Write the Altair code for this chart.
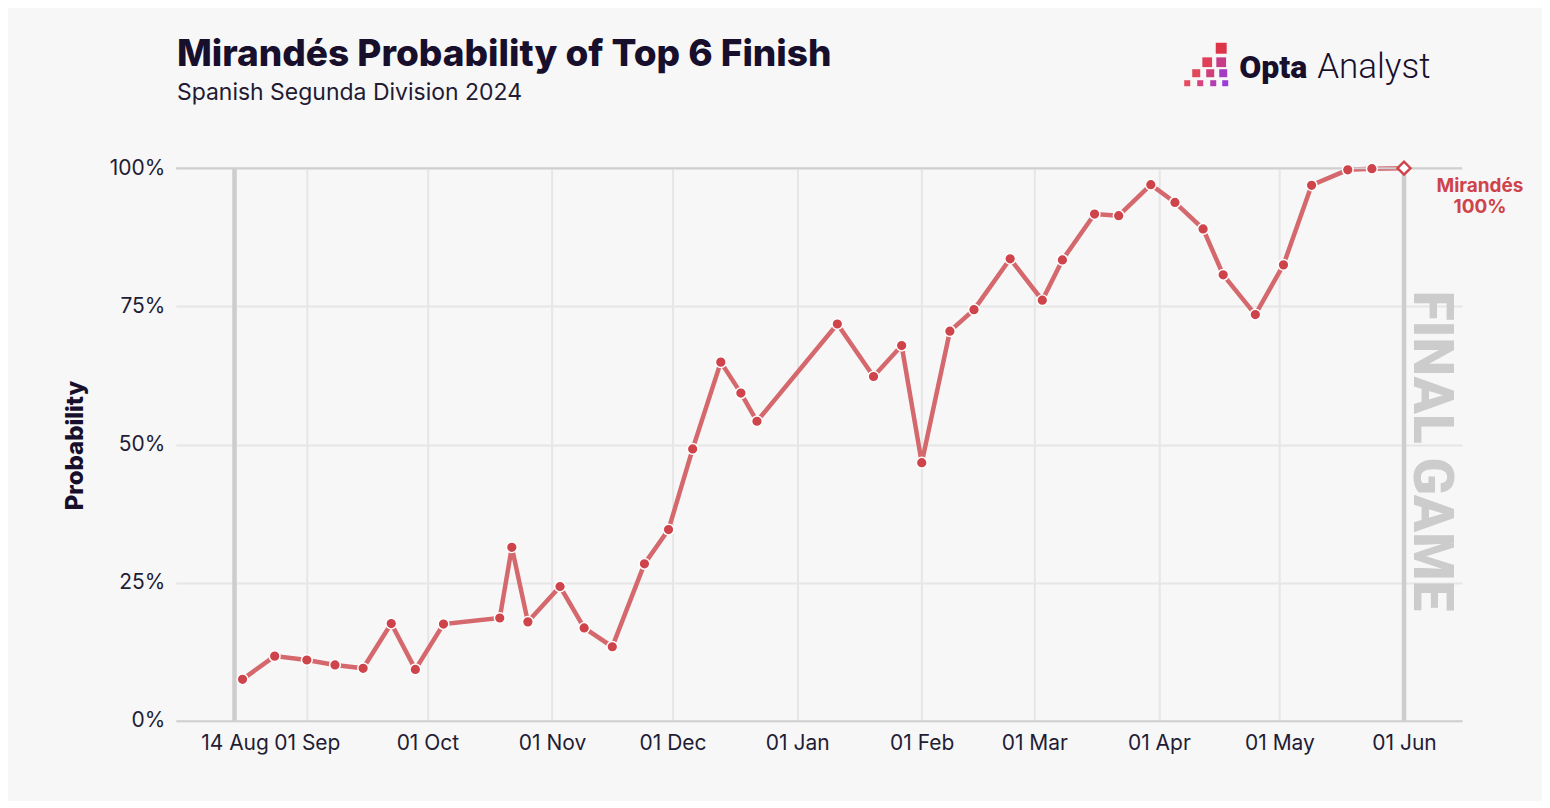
import altair as alt
import pandas as pd

team = "Mirandés"
title_text = "Mirandés Probability of Top 6 Finish"
subtitle_text = "Spanish Segunda Division 2024"

dates = ["2024-08-16", "2024-08-24", "2024-09-01", "2024-09-08", "2024-09-15",
         "2024-09-22", "2024-09-28", "2024-10-05", "2024-10-19", "2024-10-22",
         "2024-10-26", "2024-11-03", "2024-11-09", "2024-11-16", "2024-11-24",
         "2024-11-30", "2024-12-06", "2024-12-13", "2024-12-18", "2024-12-22",
         "2025-01-11", "2025-01-20", "2025-01-27", "2025-02-01", "2025-02-08",
         "2025-02-14", "2025-02-23", "2025-03-03", "2025-03-08", "2025-03-16",
         "2025-03-22", "2025-03-30", "2025-04-05", "2025-04-12", "2025-04-17",
         "2025-04-25", "2025-05-02", "2025-05-09", "2025-05-18", "2025-05-24",
         "2025-06-01"]
probs = [7.5, 11.7, 11.0, 10.1, 9.5,
         17.6, 9.3, 17.5, 18.6, 31.4,
         17.9, 24.3, 16.8, 13.4, 28.4,
         34.6, 49.2, 64.9, 59.3, 54.2,
         71.8, 62.3, 67.9, 46.7, 70.5,
         74.4, 83.6, 76.1, 83.4, 91.7,
         91.4, 97.0, 93.8, 89.0, 80.7,
         73.5, 82.5, 96.9, 99.7, 99.9,
         100.0]

tick_dates = ["2024-08-14", "2024-09-01", "2024-10-01", "2024-11-01", "2024-12-01",
              "2025-01-01", "2025-02-01", "2025-03-01", "2025-04-01", "2025-05-01",
              "2025-06-01"]
season_start = "2024-08-14"
final_game = "2025-06-01"
y_ticks = [0, 0.25, 0.5, 0.75, 1.0]


def dt(s, h=0, m=0):
    y, mo, d = (int(v) for v in s.split("-"))
    return alt.DateTime(year=y, month=mo, date=d, hours=h, minutes=m)


df = pd.DataFrame({"date": [d + "T00:00:00" for d in dates],
                   "prob": [p / 100 for p in probs]})
df_pts = df.iloc[:-1]
df_last = df.iloc[-1:].copy()
df_last["label"] = f"{team}\n{probs[-1]:.0f}%"
rules_df = pd.DataFrame({"date": [season_start + "T00:00:00", final_game + "T00:00:00"]})
final_df = pd.DataFrame({"date": [final_game + "T00:00:00"], "txt": ["FINAL GAME"]})

RED = "#cf434a"
LINE = "#d5686d"
DARK = "#170f2c"
FONT = "Inter"

xscale = alt.Scale(domain=[dt("2024-07-30", 10), dt("2025-06-15", 10, 30)])
yscale = alt.Scale(domain=[0, 1])

xaxis = alt.Axis(values=[dt(s) for s in tick_dates], format="%d %b", title=None,
                 labelFont=FONT, labelFontSize=21, labelColor="#231c35",
                 labelPadding=12, ticks=False, domainColor="#d0d0d0", domainWidth=2,
                 grid=True, gridColor="#e6e6e6", gridWidth=2, labelOverlap=False)
yaxis = alt.Axis(values=y_ticks, format=".0%", title="Probability",
                 labelFont=FONT, labelFontSize=21, labelColor="#231c35",
                 labelPadding=11, ticks=False, domain=False,
                 grid=True, gridColor="#e6e6e6", gridWidth=2,
                 titleFont=FONT, titleFontSize=24, titleFontWeight=800,
                 titleColor=DARK, titleAngle=-90, titleX=-100, titleY=277,
                 titleAlign="center", titleBaseline="middle")

X = alt.X("date:T", scale=xscale, axis=xaxis)
Y = alt.Y("prob:Q", scale=yscale, axis=yaxis)

base = alt.Chart(df).encode(x=X, y=Y)

line = base.mark_line(color=LINE, strokeWidth=4.5)
points = alt.Chart(df_pts).mark_circle(size=115, color=RED, opacity=1,
                                        stroke="white", strokeWidth=1.5).encode(
    x=alt.X("date:T", scale=xscale), y=alt.Y("prob:Q", scale=yscale))
last_pt = alt.Chart(df_last).mark_point(shape="diamond", size=170, filled=True,
                                         fill="#ffffff", stroke=RED, strokeWidth=2.4,
                                         opacity=1).encode(
    x=alt.X("date:T", scale=xscale), y=alt.Y("prob:Q", scale=yscale))
last_label = alt.Chart(df_last).mark_text(
    lineBreak="\n", align="center", baseline="middle", dx=76, dy=18,
    font=FONT, fontSize=19, fontWeight="bold", color=RED, lineHeight=21).encode(
    x=alt.X("date:T", scale=xscale), y=alt.Y("prob:Q", scale=yscale), text="label:N")

vrules = alt.Chart(rules_df).mark_rule(color="#cdcdcd", strokeWidth=4.5).encode(
    x=alt.X("date:T", scale=xscale))
top_rule = alt.Chart(pd.DataFrame({"v": [1.0]})).mark_rule(
    color="#cfcfcf", strokeWidth=2).encode(y=alt.Y("v:Q", scale=yscale))

final_txt = alt.Chart(final_df).mark_text(
    angle=90, align="center", baseline="alphabetic", dy=-10,
    font="Roboto", fontSize=55, fontWeight=900, color="#cccccc").encode(
    x=alt.X("date:T", scale=xscale), y=alt.value(283), text="txt:N")

one = pd.DataFrame({"a": [0]})

# title & subtitle (positioned relative to plot origin at 176,168)
title_mark = alt.Chart(one).mark_text(
    text=title_text, align="left", baseline="alphabetic", font=FONT, fontSize=37,
    fontWeight=800, color=DARK).encode(x=alt.value(1), y=alt.value(66 - 168))
subtitle_mark = alt.Chart(one).mark_text(
    text=subtitle_text, align="left", baseline="alphabetic", font=FONT, fontSize=23,
    fontWeight=400, color="#221b33").encode(x=alt.value(1), y=alt.value(100 - 168))

# logo (decoration)
logo_layers = []
squares = [(1222, 48, 120, "#dc3547"), (1208, 62, 95, "#e0405a"), (1222, 62, 95, "#c63c86"),
           (1197, 73, 64, "#e2475a"), (1211, 73, 64, "#cf3f7a"), (1224, 73, 64, "#a53dc4"),
           (1188, 83, 36, "#e84a5f"), (1201, 83, 36, "#d64480"), (1214, 83, 36, "#b23fb0"),
           (1226, 83, 36, "#9a3ddc")]
for sx, sy, ss, sc in squares:
    logo_layers.append(
        alt.Chart(one).mark_square(color=sc, opacity=1, size=ss).encode(
            x=alt.value(sx - 176), y=alt.value(sy - 168)))
logo_layers.append(
    alt.Chart(one).mark_text(
        text="Opta", align="left", baseline="alphabetic", font="Roboto", fontSize=32,
        fontWeight=900, color=DARK).encode(x=alt.value(1240 - 176), y=alt.value(78 - 168)))
logo_layers.append(
    alt.Chart(one).mark_text(
        text="Analyst", align="left", baseline="alphabetic", font="Roboto", fontSize=35,
        fontWeight=300, color=DARK).encode(x=alt.value(1318 - 176), y=alt.value(78 - 168)))

chart = alt.layer(line, vrules, top_rule, final_txt, points, last_pt, last_label,
                  title_mark, subtitle_mark, *logo_layers).properties(
    width=1287, height=553,
    autosize=alt.AutoSizeParams(type="none"),
    padding={"left": 168, "top": 160, "right": 80, "bottom": 80},
    background="#f7f7f7",
).configure_view(stroke=None)

chart.save("out.html", embed_options={"renderer": "svg", "actions": False})
